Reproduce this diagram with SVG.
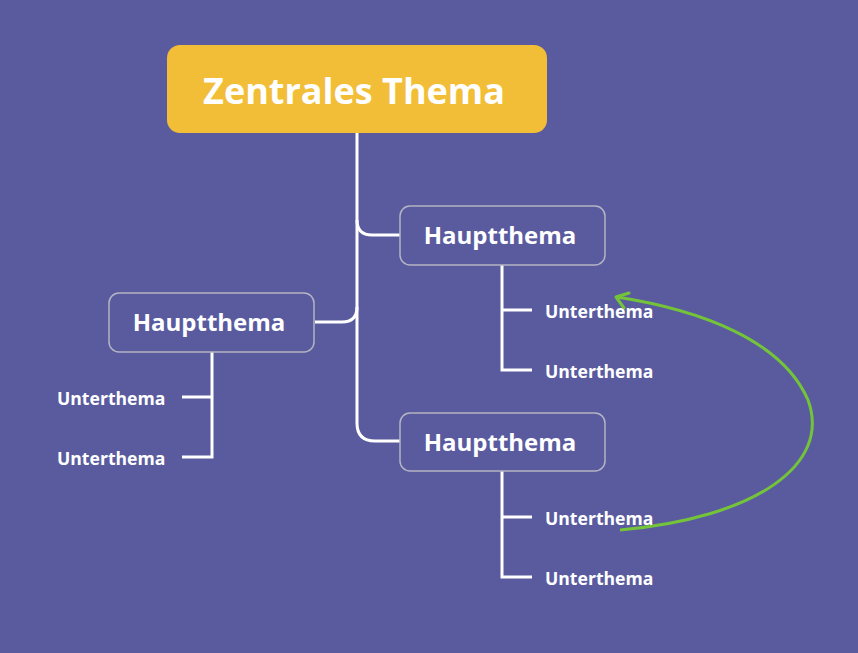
<svg xmlns="http://www.w3.org/2000/svg" width="858" height="653" viewBox="0 0 858 653">
<style>
.bg{fill:#5a5b9f}
.main{fill:#5a5b9f;stroke:#b4b4c4;stroke-width:1.5}
.conn{fill:none;stroke:#ffffff;stroke-width:3}
.t{font-family:"Open Sans","Noto Sans","Liberation Sans",sans-serif;font-weight:bold;fill:#ffffff}
.h{font-size:24px;text-anchor:middle}
.s{font-size:17.6px}
</style>
<rect class="bg" x="0" y="0" width="858" height="653"/>
<g id="connectors">
<path class="conn" d="M357,133 V423 Q357,441 375,441 H400"/>
<path class="conn" d="M357,220 Q357,235 372,235 H400"/>
<path class="conn" d="M315,322 H342 Q357,322 357,307"/>
<path class="conn" d="M502,265 V370 H532 M502,310 H532"/>
<path class="conn" d="M502,471 V577 H532 M502,517 H532"/>
<path class="conn" d="M212,352 V457 H182 M212,397 H182"/>
<path d="M620,530 C755,518 832,465 808,400 C782,340 700,310 617,297" fill="none" stroke="#74c43a" stroke-width="3"/>
<path d="M629,293 L616,297 L624,308" fill="none" stroke="#74c43a" stroke-width="3" stroke-linecap="round" stroke-linejoin="round"/>
</g>
<g id="center">
<rect x="167" y="45" width="380" height="88" rx="13" fill="#f2be37"/>
<text class="t" x="354" y="104" font-size="36" text-anchor="middle">Zentrales Thema</text>
</g>
<g id="haupt1">
<rect class="main" x="400" y="206" width="205" height="59" rx="10"/>
<text class="t h" x="500" y="244">Hauptthema</text>
</g>
<g id="haupt2">
<rect class="main" x="109" y="293" width="205" height="59" rx="10"/>
<text class="t h" x="209" y="331">Hauptthema</text>
</g>
<g id="haupt3">
<rect class="main" x="400" y="413" width="205" height="58" rx="10"/>
<text class="t h" x="500" y="451">Hauptthema</text>
</g>
<g id="sub1"><text class="t s" x="545" y="318">Unterthema</text></g>
<g id="sub2"><text class="t s" x="545" y="378">Unterthema</text></g>
<g id="sub3"><text class="t s" x="545" y="525">Unterthema</text></g>
<g id="sub4"><text class="t s" x="545" y="585">Unterthema</text></g>
<g id="sub5"><text class="t s" x="57" y="405">Unterthema</text></g>
<g id="sub6"><text class="t s" x="57" y="465">Unterthema</text></g>
</svg>
